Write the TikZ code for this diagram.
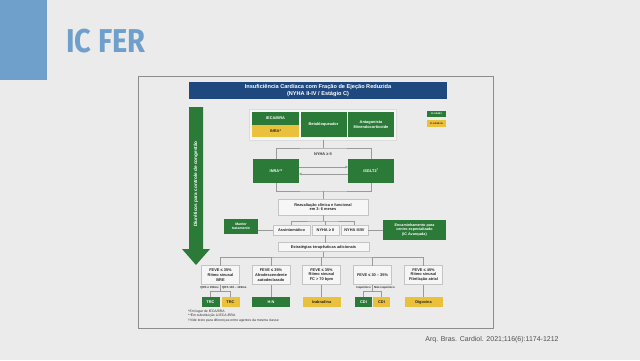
\documentclass[tikz,border=0pt]{standalone}
\usepackage{fontspec}
\setmainfont{Liberation Sans}
\newfontfamily\titlefont{Fira Sans}
\usetikzlibrary{arrows.meta,calc}
\definecolor{bgc}{HTML}{EBEBEB}
\definecolor{accent}{HTML}{6FA0CC}
\definecolor{navy}{HTML}{1F487E}
\definecolor{gr}{HTML}{2B7A38}
\definecolor{ye}{HTML}{EBC03A}
\definecolor{lfill}{HTML}{F6F6F6}
\definecolor{ldraw}{HTML}{C4C4C4}
\definecolor{linec}{HTML}{9A9A9A}
\definecolor{framec}{HTML}{8C8C8C}
\definecolor{citec}{HTML}{505050}
\tikzset{
  base/.style={inner sep=0pt, outer sep=0pt, align=center, font=\fontsize{3.9}{4.8}\selectfont\bfseries},
  gbox/.style={base, fill=gr, text=white},
  ybox/.style={base, fill=ye, text=black!85},
  lbox/.style={base, fill=lfill, draw=ldraw, line width=0.6pt, text=black!85},
  conn/.style={draw=linec, line width=0.6pt},
  lbl/.style={inner sep=0.3pt, font=\fontsize{2.9}{3.3}\selectfont\bfseries, text=black!80},
  tip/.style={-{Stealth[length=3pt,width=2.6pt]}}
}
\begin{document}
\begin{tikzpicture}[x=1pt,y=-1pt]
\fill[bgc] (0,0) rectangle (640,360);
\useasboundingbox (0,0) rectangle (640,360);
% accent block and title
\fill[accent] (0,0) rectangle (47,80);
\node[anchor=base west, inner sep=0pt, xscale=0.88, text=accent, font=\titlefont\bfseries\fontsize{33}{36}\selectfont] (title) at (66,52) {IC FER};
% frame
\draw[framec, line width=0.8pt] (138,76.5) rectangle (493,328);
\node[inner sep=0pt, text=citec, font=\fontsize{7}{8}\selectfont] (cite) at (492,340) {Arq. Bras. Cardiol. 2021;116(6):1174-1212};
% header
\node[base, fill=navy, text=white, minimum width=258pt, minimum height=17pt, font=\fontsize{5.6}{6.6}\selectfont\bfseries] (head) at (318,90.5) {Insuficiência Cardíaca com Fração de Ejeção Reduzida\\(NYHA II-IV / Estágio C)};
% legend
\node[gbox, minimum width=19pt, minimum height=6pt, font=\fontsize{2.4}{2.8}\selectfont\bfseries] (leg1) at (436.5,114) {CLASSE I};
\node[ybox, minimum width=19pt, minimum height=7pt, font=\fontsize{2.4}{2.8}\selectfont\bfseries] (leg2) at (436.5,123.5) {CLASSE IIa};
% diuretics arrow
\fill[gr] (189,107) -- (203,107) -- (203,249) -- (210,249) -- (196,265) -- (182,249) -- (189,249) -- cycle;
\node[base, rotate=90, text=white, font=\fontsize{4.7}{5}\selectfont\bfseries] (diur) at (196,184) {Diuréticos para controle de congestão};
% top group
\node[base, fill=lfill, draw=ldraw!60, line width=0.8pt, minimum width=147pt, minimum height=31pt] (grp) at (323,124.5) {};
\node[gbox, minimum width=47pt, minimum height=13pt] (ieca) at (275.5,118.5) {IECA/BRA};
\node[ybox, minimum width=47pt, minimum height=12pt] (inraa) at (275.5,131) {INRA*};
\node[gbox, minimum width=46pt, minimum height=25pt] (beta) at (323.5,124.5) {Betabloqueador};
\node[gbox, minimum width=46pt, minimum height=25pt] (anta) at (371,124.5) {Antagonista\\Mineralocorticoide};
% second level
\node[gbox, minimum width=46pt, minimum height=24pt] (inrab) at (276,171) {INRA**};
\node[gbox, minimum width=46pt, minimum height=24pt] (isglt) at (371,171) {iSGLT2\textsuperscript{†}};
\coordinate (j1) at (323,148);
\draw[conn] (grp.south) -- (j1);
\draw[conn] (inrab.north) |- (j1) -| (isglt.north);
\node[lbl, font=\fontsize{3.9}{4.5}\selectfont\bfseries] (nyhalbl) at (323,154.5) {NYHA ≥ II};
\draw[conn, tip] ([yshift=4pt]inrab.east) -- ([yshift=4pt]isglt.west);
\draw[conn, tip] ([yshift=-3pt]isglt.west) -- ([yshift=-3pt]inrab.east);
% reevaluation
\node[lbox, minimum width=90pt, minimum height=16pt] (reav) at (323,207) {Reavaliação clínica e funcional\\em 3- 6 meses};
\coordinate (j2) at (323,191);
\draw[conn] (inrab.south) |- (j2) -| (isglt.south);
\draw[conn] (j2) -- (reav.north);
% three states
\node[lbox, minimum width=37pt, minimum height=10pt] (asin) at (291.5,230) {Assintomático};
\node[lbox, minimum width=27pt, minimum height=10pt] (nyii) at (325.5,230) {NYHA ≥ II};
\node[lbox, minimum width=27pt, minimum height=10pt] (nyiv) at (354.5,230) {NYHA III/IV};
\coordinate (j3) at (323,221);
\draw[conn] (reav.south) -- (j3);
\draw[conn] (asin.north) |- (j3) -| (nyiv.north);
\draw[conn] (nyii.north) -- (nyii.north |- j3);
\node[gbox, minimum width=34pt, minimum height=15pt, font=\fontsize{3.5}{4.3}\selectfont\bfseries] (manter) at (241,226.5) {Manter\\tratamento};
\node[gbox, minimum width=63pt, minimum height=20pt, font=\fontsize{3.7}{4.5}\selectfont\bfseries] (enc) at (414.5,230) {Encaminhamento para\\centro especializado\\(IC Avançada)};
\draw[conn] (asin.west) -- (manter.east |- asin.west);
\draw[conn] (nyiv.east) -- (enc.west);
% strategies
\node[lbox, minimum width=91pt, minimum height=9pt] (estr) at (323.5,247) {Estratégias terapêuticas adicionais};
\draw[conn] (nyii.south) -- (nyii.south |- estr.north);
% columns
\begin{scope}[every node/.append style={minimum width=38pt, minimum height=19pt, font=\fontsize{3.6}{4.7}\selectfont\bfseries}]
\node[lbox] (c1) at (220.5,275) {FEVE ≤ 35\%\\Ritmo sinusal\\BRE};
\node[lbox] (c2) at (271,275) {FEVE ≤ 35\%\\Afrodescendente\\autodeclarado};
\node[lbox] (c3) at (321.5,275) {FEVE ≤ 35\%\\Ritmo sinusal\\FC > 70 bpm};
\node[lbox] (c4) at (372.5,275) {FEVE ≤ 30 – 35\%};
\node[lbox] (c5) at (423.5,275) {FEVE ≤ 45\%\\Ritmo sinusal\\Fibrilação atrial};
\end{scope}
\coordinate (j4) at (323,257);
\draw[conn] (estr.south) -- (estr.south |- j4);
\draw[conn] (c1.north) |- (j4) -| (c5.north);
\draw[conn] (c2.north) -- (c2.north |- j4);
\draw[conn] (c3.north) -- (c3.north |- j4);
\draw[conn] (c4.north) -- (c4.north |- j4);
% bottom therapies
\begin{scope}[every node/.append style={minimum height=10pt, font=\fontsize{3.7}{4.2}\selectfont\bfseries}]
\node[gbox, minimum width=18pt] (trca) at (210.5,302) {TRC};
\node[ybox, minimum width=18pt] (trcb) at (230.5,302) {TRC};
\node[gbox, minimum width=38pt] (hn) at (271,302) {H-N};
\node[ybox, minimum width=38pt] (ivab) at (321.5,302) {Ivabradina};
\node[gbox, minimum width=17pt] (cdia) at (363.5,302) {CDI};
\node[ybox, minimum width=17pt] (cdib) at (381.5,302) {CDI};
\node[ybox, minimum width=38pt] (digo) at (423.5,302) {Digoxina};
\end{scope}
\coordinate (j5) at ([yshift=-7pt]c1.south);
\draw[conn] (c1.south) -- (j5);
\draw[conn] (trca.north) |- (j5) -| (trcb.north);
\node[lbl, anchor=east] (qa) at ([xshift=-1.2pt,yshift=-3pt]c1.south) {QRS ≥ 150ms};
\node[lbl, anchor=west] (qb) at ([xshift=1.2pt,yshift=-3pt]c1.south) {QRS 130 – 149ms};
\coordinate (j6) at ([yshift=-7pt]c4.south);
\draw[conn] (c4.south) -- (j6);
\draw[conn] (cdia.north) |- (j6) -| (cdib.north);
\node[lbl, anchor=east] (isq) at ([xshift=-1.2pt,yshift=-3pt]c4.south) {Isquêmico};
\node[lbl, anchor=west] (nisq) at ([xshift=1.2pt,yshift=-3pt]c4.south) {Não isquêmico};
\draw[conn] (c2.south) -- (hn.north);
\draw[conn] (c3.south) -- (ivab.north);
\draw[conn] (c5.south) -- (digo.north);
% footnotes
\node[anchor=north west, inner sep=0pt, align=left, text=black!80, font=\fontsize{3.4}{4.5}\selectfont] (foot) at (188,309.5) {*Em lugar de IECA/BRA\\**Em substituição à IECA /BRA\\†Vide texto para diferenças entre agentes da mesma classe};
\end{tikzpicture}
\end{document}
